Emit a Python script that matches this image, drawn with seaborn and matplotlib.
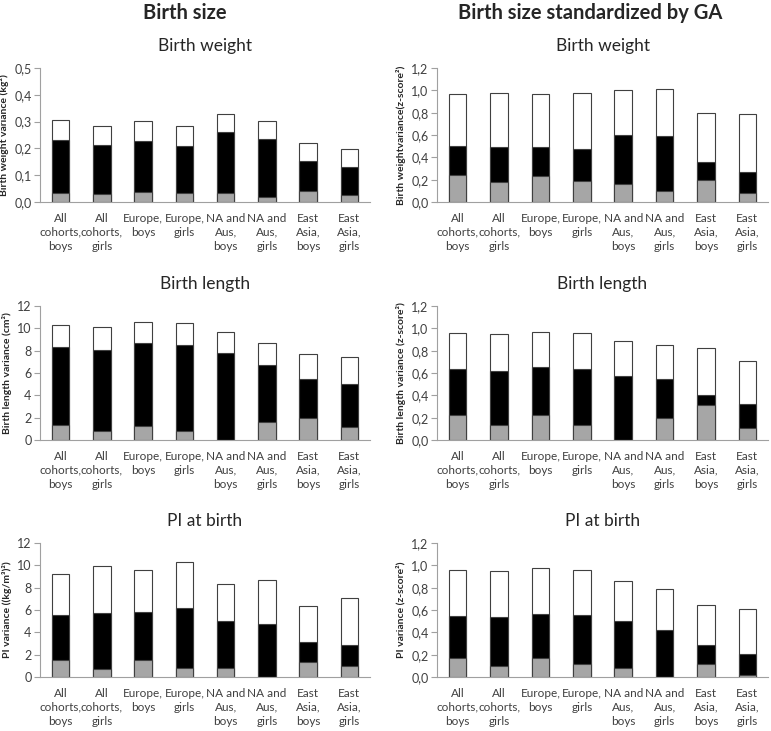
import matplotlib
matplotlib.use("Agg")
import matplotlib.pyplot as plt
from matplotlib.ticker import FuncFormatter, FixedLocator
import pandas as pd
import seaborn as sns

# Categories shared by all panels
categories = [
    "All\ncohorts,\nboys", "All\ncohorts,\ngirls", "Europe,\nboys", "Europe,\ngirls",
    "NA and\nAus,\nboys", "NA and\nAus,\ngirls", "East\nAsia,\nboys", "East\nAsia,\ngirls",
]

# Cumulative heights of each stack: grey (bottom), black (middle), total (white top)
bw_grey = [0.035, 0.028, 0.038, 0.032, 0.032, 0.018, 0.040, 0.026]
bw_black = [0.233, 0.213, 0.228, 0.209, 0.262, 0.236, 0.154, 0.132]
bw_total = [0.305, 0.283, 0.304, 0.283, 0.327, 0.301, 0.220, 0.199]

bwz_grey = [0.24, 0.18, 0.23, 0.19, 0.165, 0.10, 0.20, 0.085]
bwz_black = [0.50, 0.49, 0.49, 0.475, 0.60, 0.59, 0.355, 0.265]
bwz_total = [0.97, 0.975, 0.97, 0.975, 1.0, 1.01, 0.80, 0.79]

bl_grey = [1.3, 0.8, 1.25, 0.8, 0.0, 1.6, 2.0, 1.2]
bl_black = [8.35, 8.05, 8.65, 8.55, 7.75, 6.75, 5.5, 5.05]
bl_total = [10.3, 10.1, 10.55, 10.5, 9.7, 8.7, 7.7, 7.4]

blz_grey = [0.22, 0.13, 0.22, 0.135, 0.0, 0.195, 0.315, 0.105]
blz_black = [0.64, 0.62, 0.65, 0.635, 0.57, 0.545, 0.405, 0.325]
blz_total = [0.96, 0.95, 0.97, 0.96, 0.885, 0.855, 0.825, 0.71]

pi_grey = [1.5, 0.7, 1.5, 0.85, 0.85, 0.0, 1.35, 1.0]
pi_black = [5.55, 5.75, 5.8, 6.2, 5.0, 4.75, 3.15, 2.9]
pi_total = [9.25, 9.95, 9.55, 10.3, 8.3, 8.65, 6.4, 7.05]

piz_grey = [0.17, 0.10, 0.17, 0.115, 0.085, 0.0, 0.12, 0.015]
piz_black = [0.55, 0.535, 0.56, 0.555, 0.50, 0.42, 0.285, 0.205]
piz_total = [0.96, 0.945, 0.975, 0.955, 0.86, 0.79, 0.645, 0.605]

sns.set_style("white")
plt.rcParams["font.family"] = ["Lato", "DejaVu Sans"]

fig = plt.figure(figsize=(7.71, 7.31), dpi=100)

panels = [
    # (row, col, title, ylabel, grey, black, total, ymax, ystep, decimals)
    (0, 0, "Birth weight", "Birth weight variance (kg²)", bw_grey, bw_black, bw_total, 0.5, 0.1, 1),
    (0, 1, "Birth weight", "Birth weightvariance(z-score²)", bwz_grey, bwz_black, bwz_total, 1.2, 0.2, 1),
    (1, 0, "Birth length", "Birth length variance (cm²)", bl_grey, bl_black, bl_total, 12, 2, 0),
    (1, 1, "Birth length", "Birth length variance (z-score²)", blz_grey, blz_black, blz_total, 1.2, 0.2, 1),
    (2, 0, "PI at birth", "PI variance ((kg/m³)²)", pi_grey, pi_black, pi_total, 12, 2, 0),
    (2, 1, "PI at birth", "PI variance (z-score²)", piz_grey, piz_black, piz_total, 1.2, 0.2, 1),
]

W, H = 771.0, 731.0
col_left = [40, 437]
col_right = [370, 768]
row_top = [68, 306, 543]
row_bottom = [202, 440, 677]

edge = "#404040"
axis_grey = "#A0A0A0"
text_grey = "#404040"

for row, col, title, ylabel, grey, black, total, ymax, ystep, dec in panels:
    left = col_left[col] / W
    width = (col_right[col] - col_left[col]) / W
    bottom = 1 - row_bottom[row] / H
    height = (row_bottom[row] - row_top[row]) / H
    ax = fig.add_axes([left, bottom, width, height])

    df = pd.DataFrame({"cat": categories, "grey": grey, "black": black, "total": total})
    for key, color in [("total", "white"), ("black", "black"), ("grey", "#A6A6A6")]:
        sns.barplot(data=df, x="cat", y=key, color=color, order=categories,
                    width=0.42, edgecolor=edge, linewidth=0.8, saturation=1, ax=ax)

    ax.set_xlim(-0.5, len(categories) - 0.5)
    ax.set_ylim(0, ymax)
    ticks = [i * ystep for i in range(int(round(ymax / ystep)) + 1)]
    ax.yaxis.set_major_locator(FixedLocator(ticks))
    ax.yaxis.set_major_formatter(
        FuncFormatter(lambda v, p, d=dec: f"{v:.{d}f}".replace(".", ","))
    )
    ax.set_xticks(range(len(categories)))
    ax.set_xticklabels(categories, fontsize=8.5, color=text_grey, linespacing=1.3)
    ax.set_xticks([i - 0.5 for i in range(len(categories) + 1)], minor=True)
    ax.tick_params(axis="x", which="major", length=0, pad=8)
    ax.tick_params(axis="x", which="minor", length=5, color=axis_grey, width=0.8)
    ax.tick_params(axis="y", length=4, color=axis_grey, width=0.8, labelsize=9,
                   labelcolor=text_grey, pad=2, left=True)

    sns.despine(ax=ax)
    for s in ["left", "bottom"]:
        ax.spines[s].set_color(axis_grey)
        ax.spines[s].set_linewidth(0.8)

    ax.set_xlabel("")
    ax.set_ylabel(ylabel, fontsize=7.5, fontweight="bold", labelpad=4)
    ax.set_title(title, fontsize=12.5, pad=12)

fig.text(185 / W, 1 - 13 / H, "Birth size", ha="center", va="center",
         fontsize=14.5, fontweight="bold")
fig.text(590 / W, 1 - 13 / H, "Birth size standardized by GA", ha="center", va="center",
         fontsize=14.5, fontweight="bold")

fig.savefig("out.png", dpi=100)
